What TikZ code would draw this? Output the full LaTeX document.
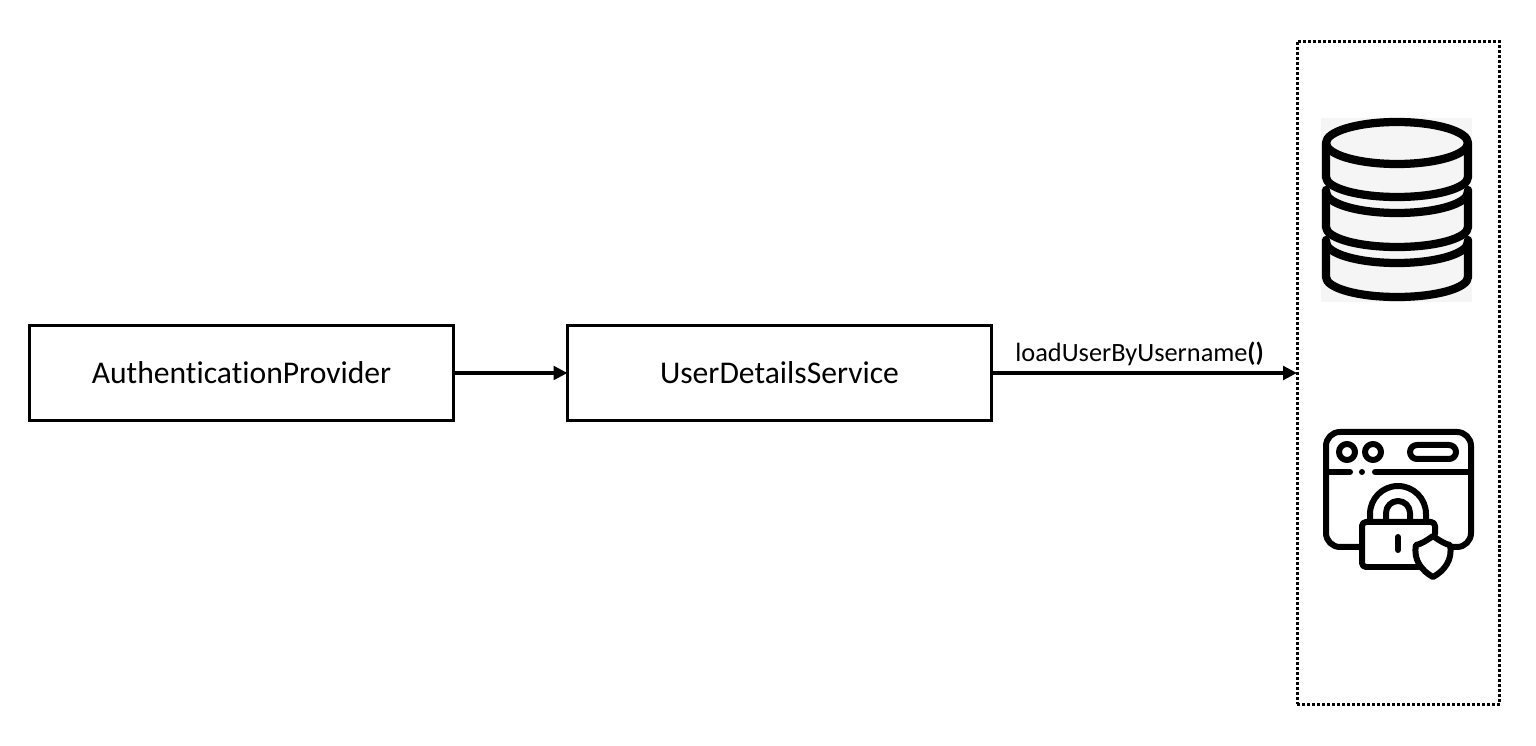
\documentclass[tikz,border=0pt]{standalone}
\usepackage{fontspec}
\setmainfont[Ligatures=CommonOff]{Carlito}
\usetikzlibrary{arrows.meta}

\begin{document}
\begin{tikzpicture}[x=0.02cm,y=-0.02cm]
        \tikzstyle{every node}=[inner sep=0pt,outer sep=0pt]
        \tikzstyle{boxnode}=[draw,line width=0.06cm,minimum width=8.48cm,minimum height=1.92cm,font=\fontsize{18}{22}\selectfont]
        \tikzstyle{flow}=[line width=0.08cm,-{Triangle[length=0.28cm,width=0.27cm]}]
        \tikzstyle{dbline}=[line width=0.165cm,line cap=round,line join=round]
        \tikzstyle{iconline}=[line width=0.12cm,line cap=round,line join=round]
        \useasboundingbox (0,0) rectangle (1536,746);
        \node[boxnode] (provider) at (241.5,373) {AuthenticationProvider};
        \node[boxnode] (service) at (779.5,373) {UserDetailsService};
        \node[draw,line width=0.06cm,dash pattern=on 0.06cm off 0.04cm,minimum width=4.06cm,minimum height=13.26cm] (store) at (1398.5,373) {};
        \draw[flow] (provider) -- (service);
        \draw[flow] (service) -- (store) node[pos=0.485,above=0.15cm,font=\fontsize{15}{18}\selectfont] (call) {loadUserByUsername\textbf{()}};
        % database
        \fill[black!4] (1321,118) rectangle (1472,302);
        \draw[dbline] (1397,143) ellipse [x radius=71,y radius=21];
        \draw[dbline] (1326,143) -- (1326,177) arc [start angle=180,end angle=0,x radius=71,y radius=20] -- (1468,143);
        \draw[dbline] (1326,192) arc [start angle=180,end angle=0,x radius=71,y radius=21];
        \draw[dbline] (1326,190) -- (1326,227) arc [start angle=180,end angle=0,x radius=71,y radius=20] -- (1468,190);
        \draw[dbline] (1326,242) arc [start angle=180,end angle=0,x radius=71,y radius=21];
        \draw[dbline] (1326,240) -- (1326,277) arc [start angle=180,end angle=0,x radius=71,y radius=20] -- (1468,240);
        % window with lock
        \draw[iconline] (1360,547) -- (1340,547) arc [start angle=90,end angle=180,radius=14] -- (1326,446) arc [start angle=180,end angle=270,radius=14] -- (1457,432) arc [start angle=270,end angle=360,radius=14] -- (1471,533) arc [start angle=0,end angle=90,radius=14] -- (1451,547);
        \draw[iconline] (1347,452) circle [radius=8];
        \draw[iconline] (1373,452) circle [radius=8];
        \draw[iconline] (1417,445) -- (1449,445) arc [start angle=-90,end angle=90,radius=7] -- (1417,459) arc [start angle=90,end angle=270,radius=7];
        \draw[iconline] (1326,472) -- (1350,472);
        \fill (1362,472) circle [radius=3];
        \draw[iconline] (1375,472) -- (1471,472);
        \draw[iconline] (1370,522) -- (1370,514) arc [start angle=180,end angle=360,radius=28] -- (1426,522);
        \draw[iconline] (1386,522) -- (1386,513) arc [start angle=180,end angle=360,radius=12] -- (1410,522);
        \draw[iconline] (1420,567) -- (1366,567) arc [start angle=90,end angle=180,radius=4] -- (1362,526) arc [start angle=180,end angle=270,radius=4] -- (1431,522) arc [start angle=270,end angle=360,radius=4] -- (1435,534);
        \draw[iconline] (1398,537) -- (1398,550);
        \draw[iconline] (1433,536) .. controls (1426,541) and (1421,544) .. (1416,545) .. controls (1413,560) and (1422,571) .. (1433,577) .. controls (1444,571) and (1453,560) .. (1450,545) .. controls (1445,544) and (1440,541) .. (1433,536) -- cycle;
\end{tikzpicture}
\end{document}
